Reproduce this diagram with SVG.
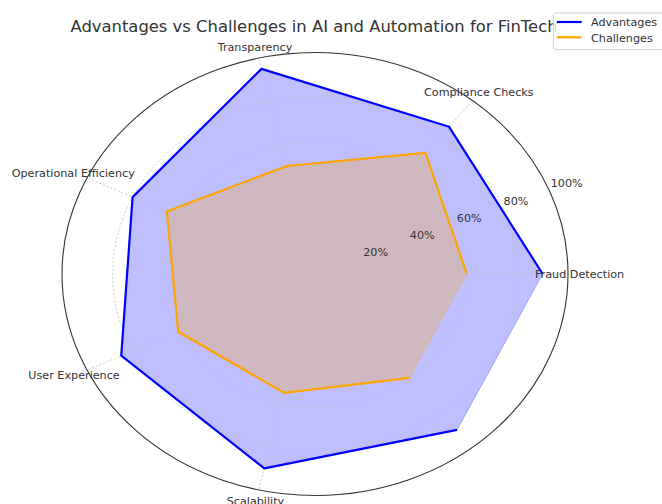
<svg xmlns="http://www.w3.org/2000/svg" width="662" height="504" viewBox="0 0 662 504">
<style>
text{font-family:"DejaVu Sans","Liberation Sans",sans-serif;fill:#333}
.lbl{font-size:11.2px}
.tick{font-size:11.2px;text-anchor:middle}
.title{font-size:16.4px;text-anchor:middle}
.ring{fill:none;stroke:#bdbdbd;stroke-width:0.8;stroke-dasharray:2 2}
.spoke{stroke:#bdbdbd;stroke-width:0.8;stroke-dasharray:2 2}
.spine{fill:none;stroke:#333;stroke-width:1.1}
</style>
<rect width="662" height="504" fill="#fff"/>
<g id="fills">
<polygon points="542.7,274 449.1,126.8 261.5,68.85 132.6,197.1 121.25,355.7 264.3,468.35 457,429.9" fill="#0000ff" fill-opacity="0.25" stroke="#0000ff" stroke-opacity="0.25" stroke-width="1"/>
<polygon points="466.8,274 425.4,152.8 286.85,166 166.8,211.5 178.2,331.7 284,392.8 409.6,377.9" fill="#ffa500" fill-opacity="0.25" stroke="#ffa500" stroke-opacity="0.25" stroke-width="1"/>
</g>
<g id="grid">
<ellipse class="ring" cx="315" cy="274" rx="50.6" ry="44.3"/>
<ellipse class="ring" cx="315" cy="274" rx="101.2" ry="88.6"/>
<ellipse class="ring" cx="315" cy="274" rx="151.8" ry="132.9"/>
<ellipse class="ring" cx="315" cy="274" rx="202.4" ry="177.2"/>
<line class="spoke" x1="315" y1="274" x2="568" y2="274"/>
<line class="spoke" x1="315" y1="274" x2="472.7" y2="100.8"/>
<line class="spoke" x1="315" y1="274" x2="258.7" y2="58.05"/>
<line class="spoke" x1="315" y1="274" x2="87.05" y2="177.9"/>
<line class="spoke" x1="315" y1="274" x2="87.05" y2="370.1"/>
<line class="spoke" x1="315" y1="274" x2="258.7" y2="489.95"/>
</g>
<g id="connectors">
<polyline id="advantages" points="542.7,274 449.1,126.8 261.5,68.85 132.6,197.1 121.25,355.7 264.3,468.35 457,429.9" fill="none" stroke="#0000ff" stroke-width="2.2" stroke-linejoin="round"/>
<polyline id="challenges" points="466.8,274 425.4,152.8 286.85,166 166.8,211.5 178.2,331.7 284,392.8 409.6,377.9" fill="none" stroke="#ffa500" stroke-width="2.2" stroke-linejoin="round"/>
</g>
<ellipse class="spine" cx="315" cy="274" rx="253" ry="221.5"/>
<g id="ticks">
<text class="tick" x="375.7" y="255.7">20%</text>
<text class="tick" x="422.3" y="239">40%</text>
<text class="tick" x="469.3" y="221.7">60%</text>
<text class="tick" x="516" y="204.7">80%</text>
<text class="tick" x="566.7" y="187.3">100%</text>
</g>
<g id="node-fraud"><text class="lbl" x="535" y="278.3">Fraud Detection</text></g>
<g id="node-compliance"><text class="lbl" x="424" y="95.7">Compliance Checks</text></g>
<g id="node-transparency"><text class="lbl" x="217.7" y="50.5">Transparency</text></g>
<g id="node-operational"><text class="lbl" x="11.7" y="176.7">Operational Efficiency</text></g>
<g id="node-user"><text class="lbl" x="28.3" y="379">User Experience</text></g>
<g id="node-scalability"><text class="lbl" x="226.7" y="505">Scalability</text></g>
<text class="title" x="314" y="32">Advantages vs Challenges in AI and Automation for FinTech</text>
<g id="legend">
<rect x="553.3" y="13" width="115" height="36.7" rx="2.5" fill="#fff" fill-opacity="0.8" stroke="#d0d0d0" stroke-width="1"/>
<line x1="556.7" y1="22" x2="581.7" y2="22" stroke="#0000ff" stroke-width="2.2"/>
<line x1="556.7" y1="37.3" x2="581.7" y2="37.3" stroke="#ffa500" stroke-width="2.2"/>
<text class="lbl" x="591" y="26">Advantages</text>
<text class="lbl" x="591" y="41.5">Challenges</text>
</g>
</svg>
